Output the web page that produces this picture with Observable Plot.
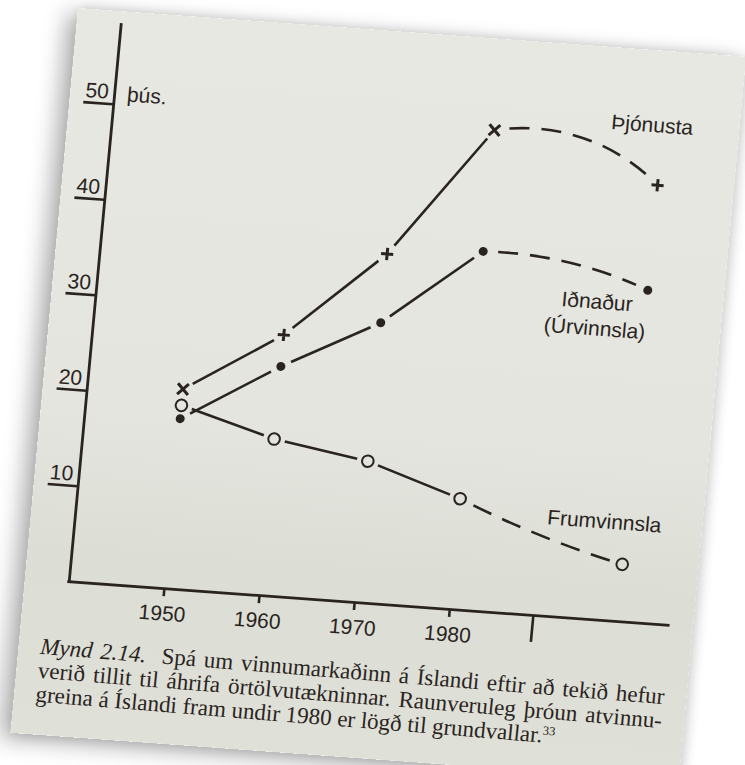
<!DOCTYPE html>
<html>
<head>
<meta charset="utf-8">
<script src="https://cdn.jsdelivr.net/npm/d3@7"></script>
<script src="https://cdn.jsdelivr.net/npm/@observablehq/plot@0.6"></script>
<style>
  html, body { margin: 0; padding: 0; background: #ffffff; width: 745px; height: 765px; overflow: hidden; }
  #paper {
    position: absolute; left: 78px; top: 8px; width: 670px; height: 728px;
    transform-origin: 0 0;
    transform: matrix(0.9974, 0.0726, -0.0928, 0.9957, 0, 0);
    background: linear-gradient(to bottom, #e7e8e1 0%, #e4e5de 55%, #dcddd5 75%, #dfe0d8 100%);
    box-shadow: -10px 6px 22px rgba(0,0,0,0.32), 4px 0 12px rgba(0,0,0,0.12);
  }
  #chart { position: absolute; left: 0; top: 0; }
  #caption {
    position: absolute; left: 22px; top: 628px; width: 626px;
    font-family: "Liberation Serif", "Times New Roman", serif;
    font-size: 23px; line-height: 24px; color: #2a2421;
    transform: rotate(0.45deg); transform-origin: 0 0;
  }
  #caption .j { text-align: justify; text-align-last: justify; }
  #caption sup { font-size: 12.5px; line-height: 0; vertical-align: 8px; }
</style>
</head>
<body>
<div id="paper">
  <div id="chart"></div>
  <div id="caption">
    <div class="j"><i>Mynd 2.14.</i>&nbsp; Spá um vinnumarkaðinn á Íslandi eftir að tekið hefur</div>
    <div class="j">verið tillit til áhrifa örtölvutækninnar. Raunveruleg þróun atvinnu-</div>
    <div>greina á Íslandi fram undir 1980 er lögð til grundvallar.<sup>33</sup></div>
  </div>
</div>
<script>
// ---- data (thousands of workers) ----
const years = [1950, 1960, 1970, 1980, 2000];
const thjonusta = [20.9, 27.3, 36.5, 50.2, 45.7];      // Þjónusta
const idnadur = [17.8, 24.0, 29.3, 37.5, 34.7];        // Iðnaður (Úrvinnsla)
const frumvinnsla = [19.2, 16.4, 14.8, 11.6, 6.0];     // Frumvinnsla
const thjonustaMarks = ["times", "plus", "plus", "times", "plus"];
const lastActual = 1980;                                // forecast after this year
const xTicks = [1950, 1960, 1970, 1980];
const xLongTicks = [1990];
const yTicks = [10, 20, 30, 40, 50];
const unitLabel = ["þús."];
const labelText = ["Þjónusta", "Iðnaður", "(Úrvinnsla)", "Frumvinnsla"];
const labelYear = [1998.7, 1994.1, 1994.1, 1997.4];
const labelValue = [51.9, 33.1, 30.3, 10.3];

const ink = "#2a2421";
const rows = (vals) => years.map((year, i) => ({year, v: vals[i], i}));
const segs = (vals) => years.slice(1).map((year, i) => ({
  x1: years[i], y1: vals[i], x2: year, y2: vals[i + 1], forecast: years[i] >= lastActual
}));
const labels = labelText.map((t, i) => ({t, x: labelYear[i], y: labelValue[i]}));

const solid = {x1: "x1", y1: "y1", x2: "x2", y2: "y2", headLength: 0, insetStart: 11, insetEnd: 11,
  stroke: ink, strokeWidth: 2.6, strokeLinecap: "butt"};
const dashed = {...solid, strokeDasharray: "20,12", insetStart: 15, insetEnd: 13};

const series = [
  {vals: thjonusta, bend: 27},
  {vals: idnadur, bend: 12},
  {vals: frumvinnsla, bend: -5}
];
const lineMarks = series.flatMap(s => [
  Plot.arrow(segs(s.vals).filter(d => !d.forecast), solid),
  Plot.arrow(segs(s.vals).filter(d => d.forecast), {...dashed, bend: s.bend})
]);

// the printed time axis is compressed after 1980 (forecast period)
const compress = (d) => d <= lastActual ? d : lastActual + (d - lastActual) * 0.878;

const chart = Plot.plot({
  width: 664,
  height: 640,
  marginLeft: 44,
  marginRight: 19,
  marginTop: 13.4,
  marginBottom: 67.5,
  style: {background: "transparent", fontFamily: "'Liberation Sans', Arial, Helvetica, sans-serif", fontSize: "21px", color: ink, overflow: "visible"},
  x: {domain: [1940, 2003], transform: compress},
  y: {domain: [0, 58.3]},
  marks: [
    // axes
    Plot.ruleY([0], {stroke: ink, strokeWidth: 2.8, strokeLinecap: "square"}),
    Plot.ruleX([1940], {stroke: ink, strokeWidth: 2.8, strokeLinecap: "square"}),
    Plot.axisX(xTicks, {tickSize: 8, tickPadding: 9, tickFormat: d => `${d}`, stroke: ink, fill: ink, strokeWidth: 2.6, fontSize: 21, label: null}),
    Plot.axisX(xLongTicks, {tickSize: 27, tickFormat: () => "", stroke: ink, fill: "none", strokeWidth: 2.6, label: null}),
    Plot.axisY(yTicks, {tickSize: 30, tickFormat: () => "", stroke: ink, fill: "none", strokeWidth: 2.6, label: null}),
    Plot.axisY(yTicks, {tickSize: 0, tickPadding: 6, dy: -12, tickFormat: d => `${d}`, stroke: "none", fill: ink, fontSize: 21, label: null}),
    Plot.text(unitLabel, {x: 1941.3, y: 51.1, text: d => d, textAnchor: "start", fill: ink, fontSize: 21}),
    // lines
    ...lineMarks,
    // markers
    Plot.dot(rows(thjonusta).filter(d => thjonustaMarks[d.i] === "plus"), {x: "year", y: "v", symbol: "plus", r: 4, stroke: ink, strokeWidth: 3}),
    Plot.dot(rows(thjonusta).filter(d => thjonustaMarks[d.i] === "times"), {x: "year", y: "v", symbol: "times", r: 5, stroke: ink, strokeWidth: 3}),
    Plot.dot(rows(idnadur), {x: "year", y: "v", r: 4.5, fill: ink, stroke: "none"}),
    Plot.dot(rows(frumvinnsla), {x: "year", y: "v", r: 5.8, fill: "none", stroke: ink, strokeWidth: 2}),
    // series labels
    Plot.text(labels, {x: "x", y: "y", text: "t", textAnchor: "middle", fill: ink, fontSize: 21})
  ]
});
document.getElementById("chart").appendChild(chart);
</script>
</body>
</html>
